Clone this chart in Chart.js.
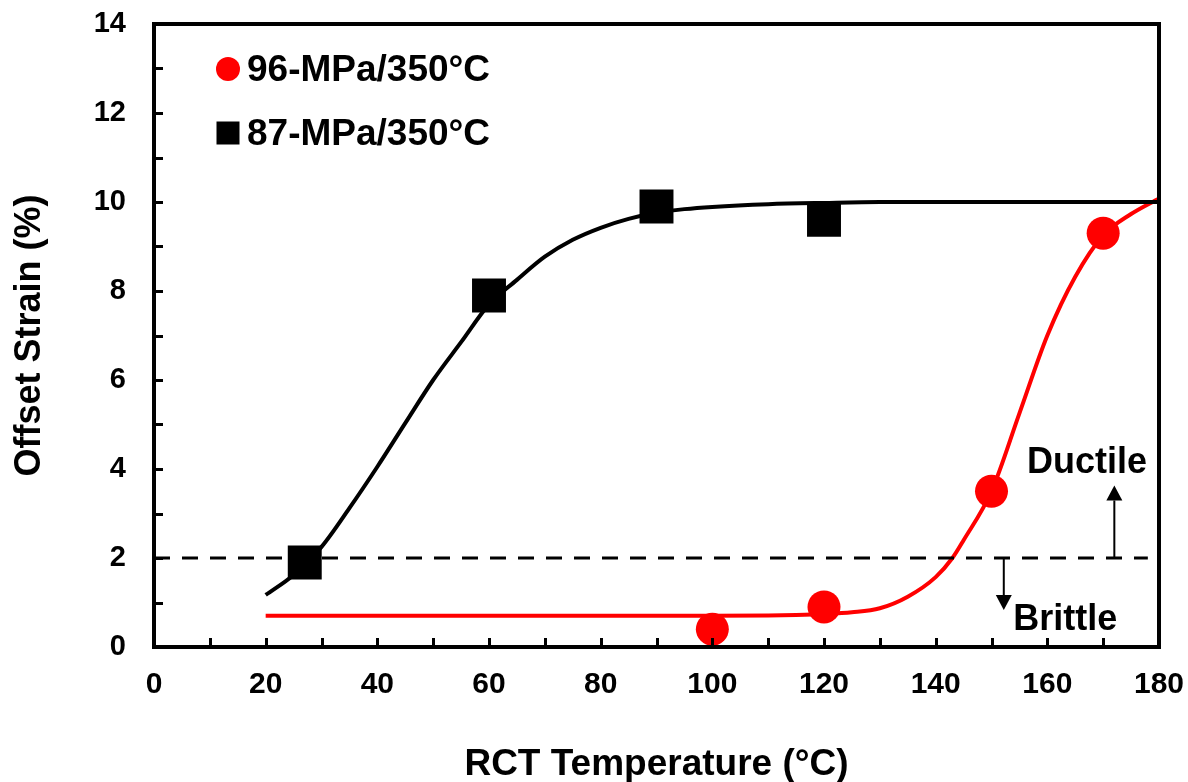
<!DOCTYPE html>
<html><head><meta charset="utf-8">
<script src="https://cdn.jsdelivr.net/npm/chart.js@4"></script>
<style>html,body{margin:0;padding:0;background:#fff}</style>
</head><body>
<canvas id="c" width="1188" height="782"></canvas>
<script>
// ---- data ----
const xTickValues = [0,20,40,60,80,100,120,140,160,180];
const yTickValues = [0,2,4,6,8,10,12,14];
const xTitle = 'RCT Temperature (°C)';
const yTitle = 'Offset Strain (%)';
const redLabel = '96-MPa/350°C';
const blackLabel = '87-MPa/350°C';

const redX = [100,120,150,170];
const redY = [0.4,0.9,3.5,9.3];
const blackX = [27,60,90,120];
const blackY = [1.9,7.9,9.9,9.6];

const redFitX = [20,30,40,50,60,70,80,90,100,110,115,120,125,130,135,140,143,145,150,155,160,165,170,175,180];
const redFitY = [0.70,0.70,0.70,0.70,0.70,0.70,0.70,0.70,0.70,0.71,0.72,0.74,0.78,0.87,1.13,1.57,2.0,2.4,3.5,5.25,7.0,8.32,9.25,9.73,10.08];
const blackFitX = [20,25,30,35,40,45,50,55,60,65,70,75,80,85,90,95,100,110,120,130,140,150,160,170,180];
const blackFitY = [1.17,1.62,2.25,3.12,4.05,5.03,6.0,6.85,7.7,8.25,8.77,9.15,9.42,9.62,9.76,9.84,9.89,9.95,9.98,10.0,10.0,10.0,10.0,10.0,10.0];

const thresholdX = [0,178];
const thresholdY = [2,2];

const arrowUp = {x:172, from:2, to:3.63};
const arrowDown = {x:152.2, from:2, to:0.83};
const ductileText = {text:'Ductile', x:167.1, y:4.13};
const brittleText = {text:'Brittle', x:163.2, y:0.6};

// ---- helpers ----
const FONT = 'Arial, "Liberation Sans", sans-serif';
const pts = (xs, ys) => xs.map((x,i)=>({x, y:ys[i]}));

const decor = {
  id:'decor',
  afterDatasetsDraw(chart){
    const {ctx, chartArea:a, scales:{x, y}} = chart;
    ctx.save();
    // inner tick marks
    ctx.strokeStyle = '#000'; ctx.lineWidth = 3;
    for (let v=10; v<180; v+=10){
      const px = Math.round(x.getPixelForValue(v))+0.5;
      ctx.beginPath(); ctx.moveTo(px, a.bottom); ctx.lineTo(px, a.bottom-9); ctx.stroke();
    }
    for (let v=1; v<14; v+=1){
      const py = Math.round(y.getPixelForValue(v))+0.5;
      ctx.beginPath(); ctx.moveTo(a.left, py); ctx.lineTo(a.left+9, py); ctx.stroke();
    }
    // box
    ctx.lineWidth = 4;
    ctx.strokeRect(a.left, a.top, a.right-a.left, a.bottom-a.top);
    // arrows
    const arrow = (ar) => {
      const px = x.getPixelForValue(ar.x);
      const p0 = y.getPixelForValue(ar.from), p1 = y.getPixelForValue(ar.to);
      const dir = p1 < p0 ? -1 : 1;
      const head = 15;
      ctx.lineWidth = 2;
      ctx.beginPath(); ctx.moveTo(px, p0); ctx.lineTo(px, p1 - dir*head); ctx.stroke();
      ctx.beginPath();
      ctx.moveTo(px, p1); ctx.lineTo(px-8, p1 - dir*head); ctx.lineTo(px+8, p1 - dir*head); ctx.closePath();
      ctx.fillStyle = '#000'; ctx.fill();
    };
    arrow(arrowUp); arrow(arrowDown);
    // labels
    ctx.fillStyle = '#000';
    ctx.font = 'bold 36px ' + FONT;
    ctx.textAlign = 'center'; ctx.textBaseline = 'middle';
    [ductileText, brittleText].forEach(t=>{
      ctx.fillText(t.text, x.getPixelForValue(t.x), y.getPixelForValue(t.y));
    });
    // legend
    ctx.font = 'bold 37px ' + FONT;
    ctx.textAlign = 'left';
    ctx.fillStyle = '#ff0000';
    ctx.beginPath(); ctx.arc(a.left+74, a.top+45, 12, 0, Math.PI*2); ctx.fill();
    ctx.fillStyle = '#000';
    ctx.fillRect(a.left+74-11.5, a.top+109-11.5, 23, 23);
    ctx.fillText(redLabel, a.left+93, a.top+47);
    ctx.fillText(blackLabel, a.left+93, a.top+111);
    ctx.restore();
  }
};

new Chart(document.getElementById('c'), {
  type:'scatter',
  data:{
    datasets:[
      {data:pts(thresholdX, thresholdY), showLine:true, borderColor:'#000', borderWidth:3, borderDash:[16,12], pointRadius:0},
      {data:pts(blackFitX, blackFitY), showLine:true, borderColor:'#000', borderWidth:4, pointRadius:0, cubicInterpolationMode:'monotone'},
      {data:pts(redFitX, redFitY), showLine:true, borderColor:'#ff0000', borderWidth:4, pointRadius:0, cubicInterpolationMode:'monotone', clip:false},
      {label:blackLabel, data:pts(blackX, blackY), showLine:false, pointStyle:'rect', pointRadius:24, backgroundColor:'#000', borderColor:'#000', borderWidth:0},
      {label:redLabel, data:pts(redX, redY), showLine:false, pointStyle:'circle', pointRadius:16.5, backgroundColor:'#ff0000', borderColor:'#ff0000', borderWidth:0}
    ]
  },
  options:{
    responsive:false, animation:false, devicePixelRatio:1,
    layout:{padding:{top:24, right:29, left:0, bottom:0}},
    plugins:{legend:{display:false}, tooltip:{enabled:false}},
    scales:{
      x:{type:'linear', min:0, max:180,
        afterBuildTicks:(s)=>{s.ticks = xTickValues.map(v=>({value:v}));},
        afterFit:(s)=>{s.height = 135; s.paddingLeft = 0; s.paddingRight = 0; s.paddingTop = 0; s.paddingBottom = 0;},
        ticks:{color:'#000', font:{family:FONT, size:30, weight:'bold'}, padding:20, maxRotation:0, autoSkip:false},
        grid:{display:true, drawOnChartArea:false, drawTicks:false},
        border:{display:false},
        title:{display:true, text:xTitle, color:'#000', font:{family:FONT, size:37, weight:'bold', lineHeight:0.95}, padding:{top:0,bottom:0}}
      },
      y:{type:'linear', min:0, max:14,
        afterBuildTicks:(s)=>{s.ticks = yTickValues.map(v=>({value:v}));},
        afterFit:(s)=>{s.width = 154; s.paddingLeft = 0; s.paddingRight = 0; s.paddingTop = 0; s.paddingBottom = 0;},
        ticks:{color:'#000', font:{family:FONT, size:29, weight:'bold'}, padding:28, autoSkip:false},
        grid:{display:true, drawOnChartArea:false, drawTicks:false},
        border:{display:false},
        title:{display:true, text:yTitle, color:'#000', font:{family:FONT, size:36, weight:'bold', lineHeight:1.0}, padding:{top:12,bottom:0}}
      }
    }
  },
  plugins:[decor]
});
</script>
</body></html>
